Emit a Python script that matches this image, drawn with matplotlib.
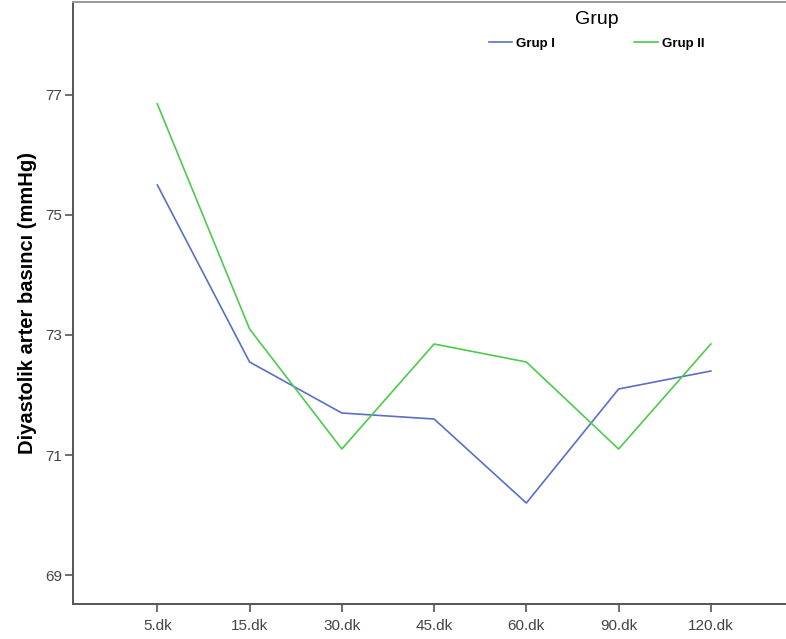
import matplotlib.pyplot as plt

plt.rcParams['font.family'] = ['Liberation Sans', 'DejaVu Sans']

# Datos
zamanlar = ['5.dk', '15.dk', '30.dk', '45.dk', '60.dk', '90.dk', '120.dk']
grup1 = [75.5, 72.55, 71.7, 71.6, 70.2, 72.1, 72.4]
grup2 = [76.85, 73.1, 71.1, 72.85, 72.55, 71.1, 72.85]
y_ticks = [69, 71, 73, 75, 77]

fig = plt.figure(figsize=(7.86, 6.39), dpi=100)
ax = fig.add_axes([0.093, 0.055, 0.91, 0.942])

x = range(len(zamanlar))
ax.plot(x, grup1, color='#5a6fc6', linewidth=1.2, label='Grup I')
ax.plot(x, grup2, color='#4ccb4c', linewidth=1.2, label='Grup II')

ax.set_xticks(list(x))
ax.set_xticklabels(zamanlar)
ax.set_yticks(y_ticks)
ax.set_xlim(-0.913, 6.84)
ax.set_ylim(68.52, 78.55)

for s in ['left', 'bottom']:
    ax.spines[s].set_color('#555555')
    ax.spines[s].set_linewidth(1.4)
ax.spines['right'].set_visible(False)
ax.spines['top'].set_color('#999999')
ax.spines['top'].set_linewidth(1.4)

ax.tick_params(axis='both', colors='#555555', labelcolor='#444444', labelsize=11,
               length=6, width=1.2)
ax.tick_params(axis='y', pad=2)
ax.tick_params(axis='x', pad=5)
ax.set_ylabel('Diyastolik arter basıncı (mmHg)', fontsize=14.5, fontweight='bold',
              labelpad=6)

leg = fig.legend(loc='upper center', bbox_to_anchor=(0.759, 0.983), ncol=2,
                 frameon=False, title='Grup', title_fontsize=14,
                 prop={'weight': 'bold', 'size': 9.5}, handlelength=1.8,
                 columnspacing=6.0, handletextpad=0.3, borderaxespad=0,
                 borderpad=0, labelspacing=0.75)

plt.savefig('out.png', dpi=100)
